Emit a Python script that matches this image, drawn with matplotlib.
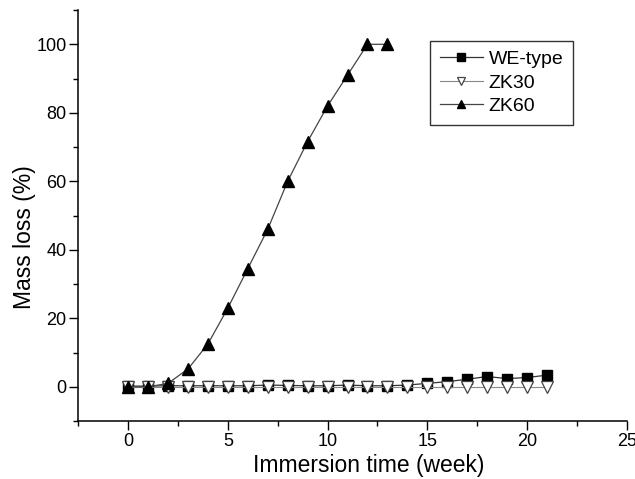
import numpy as np
import matplotlib
matplotlib.use("Agg")
import matplotlib.pyplot as plt
from matplotlib.ticker import MultipleLocator

plt.rcParams["font.family"] = ["Liberation Sans", "DejaVu Sans"]

# semanas de inmersión
weeks_we = list(range(0, 22))
weeks_zk30 = list(range(0, 22))
weeks_zk60 = list(range(0, 14))

# pérdida de masa (%)
we_type = [0.2, 0.2, 0.3, 0.3, 0.3, 0.3, 0.3, 0.5, 0.4, 0.3, 0.3, 0.5, 0.3, 0.3,
           0.5, 1.0, 1.5, 2.2, 3.0, 2.4, 2.7, 3.4]
zk30 = [-0.2] * 22
zk60 = [0.0, 0.0, 1.0, 5.2, 12.5, 23.0, 34.5, 46.0, 60.0, 71.6, 82.0, 91.0,
        100.0, 100.0]

fig = plt.figure(figsize=(6.35, 4.79), dpi=100)
ax = fig.add_axes([0.1233, 0.121, 0.8636, 0.858])

ax.plot(weeks_we, we_type, "-", color="#333333", lw=0.9, marker="s", ms=7,
        mfc="black", mec="black", label="WE-type", zorder=2)
ax.plot(weeks_zk30, zk30, "-", color="#888888", lw=0.8, marker="v", ms=8,
        mfc="white", mec="#444444", mew=0.9, label="ZK30", zorder=3)
ax.plot(weeks_zk60, zk60, "-", color="#444444", lw=0.9, marker="^", ms=8,
        mfc="black", mec="black", label="ZK60", zorder=4)

ax.set_xlim(-2.5, 25)
ax.set_ylim(-10, 110)
ax.xaxis.set_major_locator(MultipleLocator(5))
ax.xaxis.set_minor_locator(MultipleLocator(2.5))
ax.yaxis.set_major_locator(MultipleLocator(20))
ax.yaxis.set_minor_locator(MultipleLocator(10))
ax.tick_params(which="major", length=6.5, width=1, labelsize=13, pad=2)
ax.tick_params(which="minor", length=3.5, width=1)
for s in ("top", "right"):
    ax.spines[s].set_visible(False)
for s in ("left", "bottom"):
    ax.spines[s].set_linewidth(1.1)

ax.set_xlabel("Immersion time (week)", fontsize=16.5)
ax.set_ylabel("Mass loss (%)", fontsize=16.5)
ax.xaxis.set_label_coords(0.53, -0.08)
ax.yaxis.set_label_coords(-0.078, 0.448)

leg = ax.legend(loc="upper right", bbox_to_anchor=(0.902, 0.925), fontsize=14,
                frameon=True, fancybox=False, edgecolor="black",
                handlelength=2.2, handletextpad=0.3, borderpad=0.5,
                labelspacing=0.3, markerscale=0.8, borderaxespad=0)
leg.get_frame().set_linewidth(1.0)

fig.savefig("out.png", dpi=100)
